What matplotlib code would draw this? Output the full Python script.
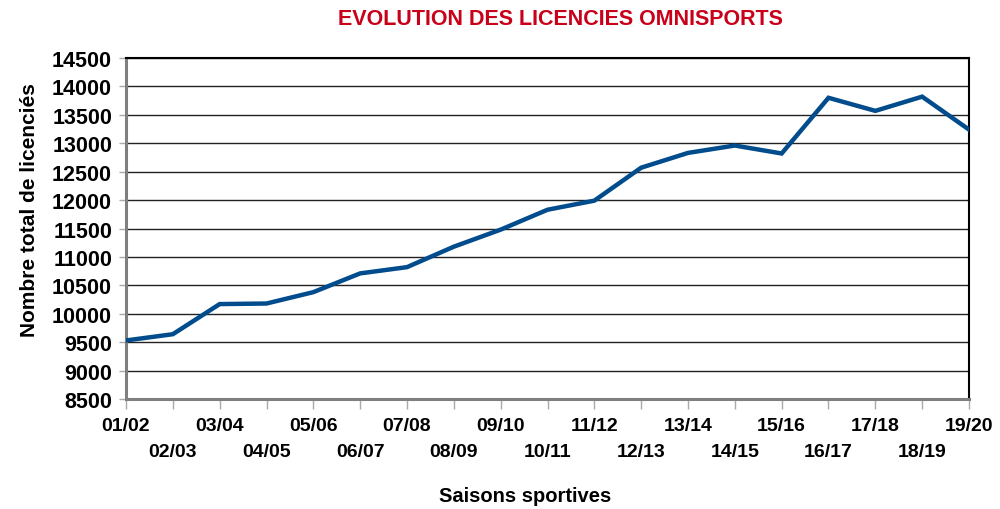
import matplotlib
matplotlib.use("Agg")
import matplotlib.pyplot as plt
from matplotlib.ticker import FixedLocator, FixedFormatter

seasons = ["01/02", "02/03", "03/04", "04/05", "05/06", "06/07", "07/08", "08/09", "09/10", "10/11",
           "11/12", "12/13", "13/14", "14/15", "15/16", "16/17", "17/18", "18/19", "19/20"]
licences = [9530, 9640, 10170, 10180, 10380, 10710, 10820, 11180, 11480, 11830,
            11990, 12570, 12830, 12960, 12820, 13800, 13570, 13820, 13240]
yticks = list(range(8500, 14501, 500))

fam = "Liberation Sans"

fig = plt.figure(figsize=(10, 5.1), dpi=100)
ax = fig.add_axes([0.126, 0.2157, 0.843, 0.6686])

x = list(range(len(seasons)))
ax.plot(x, licences, color="#004C8C", linewidth=3.2, solid_joinstyle="miter", zorder=3)

ax.set_xlim(0, len(seasons) - 1)
ax.set_ylim(8500, 14500)
ax.set_yticks(yticks)
ax.set_yticklabels([str(v) for v in yticks], fontsize=15.5, fontweight="bold", family=fam)

even = [i for i in x if i % 2 == 0]
odd = [i for i in x if i % 2 == 1]
ax.xaxis.set_major_locator(FixedLocator(even))
ax.xaxis.set_major_formatter(FixedFormatter([seasons[i] for i in even]))
ax.xaxis.set_minor_locator(FixedLocator(odd))
ax.xaxis.set_minor_formatter(FixedFormatter([seasons[i] for i in odd]))
for lab in ax.get_xticklabels(which="both"):
    lab.set_fontsize(14)
    lab.set_fontweight("bold")
    lab.set_family(fam)
ax.tick_params(axis="x", which="major", direction="out", length=7, width=1, color="#aaaaaa", pad=6)
ax.tick_params(axis="x", which="minor", direction="out", length=7, width=1, color="#aaaaaa", pad=25)
ax.tick_params(axis="y", direction="out", length=5, width=1, color="#aaaaaa", pad=5)

ax.grid(axis="y", color="#222222", linewidth=1.0, zorder=1)

for side in ["top", "right"]:
    ax.spines[side].set_color("black")
    ax.spines[side].set_linewidth(1.5)
for side in ["left", "bottom"]:
    ax.spines[side].set_color("#7f7f7f")
    ax.spines[side].set_linewidth(2.2)

fig.text(0.030, 0.588, "Nombre total de licenciés", rotation=90, fontsize=15, fontweight="bold",
         family=fam, ha="center", va="center")
fig.text(0.525, 0.026, "Saisons sportives", fontsize=14.5, fontweight="bold", family=fam,
         ha="center", va="center")
fig.text(0.56, 0.962, "EVOLUTION DES LICENCIES OMNISPORTS", color="#C8001A", fontsize=15.5,
         fontweight="bold", family=fam, ha="center", va="center")

fig.savefig("out.png", dpi=100)
